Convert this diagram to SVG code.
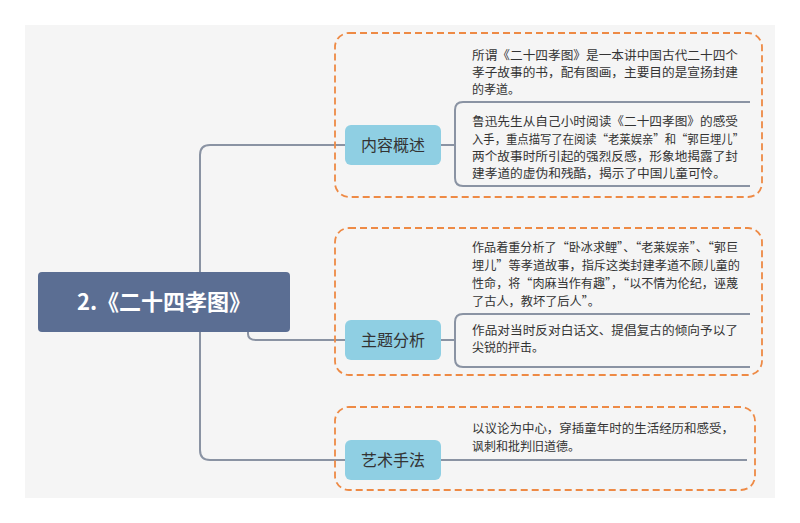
<svg xmlns="http://www.w3.org/2000/svg" width="800" height="523" viewBox="0 0 800 523">
<style>
.t{font-family:"Noto Sans CJK SC","Noto Sans",sans-serif;font-size:12px;fill:#333}
.n{fill:#8fcfe3}
.nt{font-family:"Noto Sans CJK SC",sans-serif;font-size:16px;fill:#333;text-anchor:middle}
.c{fill:none;stroke:#8a93a3;stroke-width:2}
.d{fill:none;stroke:#ee8a45;stroke-width:1.8;stroke-dasharray:7 4}
</style>
<rect width="800" height="523" fill="#fff"/>
<rect x="25" y="25" width="750" height="473" fill="#f5f5f5"/>
<g id="connectors">
<path class="c" d="M200 300 V155 Q200 145 210 145 H345"/>
<path class="c" d="M200 300 V450 Q200 460 210 460 H345"/>
<path class="c" d="M248 332 V334 Q248 340 256 340 H345"/>
<path class="c" d="M440 145 H455 M455 145 V110 Q455 102 463 102 H750 M455 145 V178 Q455 186 463 186 H750"/>
<path class="c" d="M440 340 H455 M455 340 V322 Q455 314 463 314 H750 M455 340 V359 Q455 367 463 367 H750"/>
<path class="c" d="M440 460 H747"/>
</g>
<rect class="d" x="335" y="33" width="427" height="164" rx="14"/>
<rect class="d" x="335" y="228" width="427" height="147" rx="14"/>
<rect class="d" x="335" y="407" width="420" height="83" rx="14"/>
<g id="root">
<rect x="38" y="272" width="252" height="60" rx="4" fill="#5b6e93"/>
<text x="164" y="310" font-family="Noto Sans CJK SC,sans-serif" font-size="22" font-weight="600" fill="#fff" text-anchor="middle">2.《二十四孝图》</text>
</g>
<g id="n1"><rect class="n" x="345" y="125" width="96" height="40" rx="6"/><text class="nt" x="393" y="151">内容概述</text></g>
<g id="n2"><rect class="n" x="345" y="320" width="96" height="40" rx="6"/><text class="nt" x="393" y="346">主题分析</text></g>
<g id="n3"><rect class="n" x="345" y="440" width="96" height="40" rx="6"/><text class="nt" x="393" y="466">艺术手法</text></g>
<g id="t1">
<text x="472" y="60" class="t" textLength="266" lengthAdjust="spacingAndGlyphs">所谓《二十四孝图》是一本讲中国古代二十四个</text>
<text x="472" y="77" class="t" textLength="266" lengthAdjust="spacingAndGlyphs">孝子故事的书，配有图画，主要目的是宣扬封建</text>
<text x="472" y="94" class="t">的孝道。</text>
</g>
<g id="t2">
<text x="472" y="126" class="t" textLength="266" lengthAdjust="spacingAndGlyphs">鲁迅先生从自己小时阅读《二十四孝图》的感受</text>
<text x="472" y="144" class="t" textLength="272" lengthAdjust="spacingAndGlyphs">入手，重点描写了在阅读“老莱娱亲”和“郭巨埋儿”</text>
<text x="472" y="161" class="t" textLength="266" lengthAdjust="spacingAndGlyphs">两个故事时所引起的强烈反感，形象地揭露了封</text>
<text x="472" y="178" class="t" textLength="254" lengthAdjust="spacingAndGlyphs">建孝道的虚伪和残酷，揭示了中国儿童可怜。</text>
</g>
<g id="t3">
<text x="472" y="252" class="t" textLength="266" lengthAdjust="spacingAndGlyphs">作品着重分析了“卧冰求鲤”、“老莱娱亲”、“郭巨</text>
<text x="472" y="270" class="t" textLength="268" lengthAdjust="spacingAndGlyphs">埋儿”等孝道故事，指斥这类封建孝道不顾儿童的</text>
<text x="472" y="288" class="t" textLength="266" lengthAdjust="spacingAndGlyphs">性命，将“肉麻当作有趣”，“以不情为伦纪，诬蔑</text>
<text x="472" y="306" class="t" textLength="128" lengthAdjust="spacingAndGlyphs">了古人，教坏了后人”。</text>
</g>
<g id="t4">
<text x="472" y="335" class="t" textLength="266" lengthAdjust="spacingAndGlyphs">作品对当时反对白话文、提倡复古的倾向予以了</text>
<text x="472" y="352" class="t">尖锐的抨击。</text>
</g>
<g id="t5">
<text x="472" y="433" class="t" textLength="262" lengthAdjust="spacingAndGlyphs">以议论为中心，穿插童年时的生活经历和感受，</text>
<text x="472" y="451" class="t">讽刺和批判旧道德。</text>
</g>
</svg>
